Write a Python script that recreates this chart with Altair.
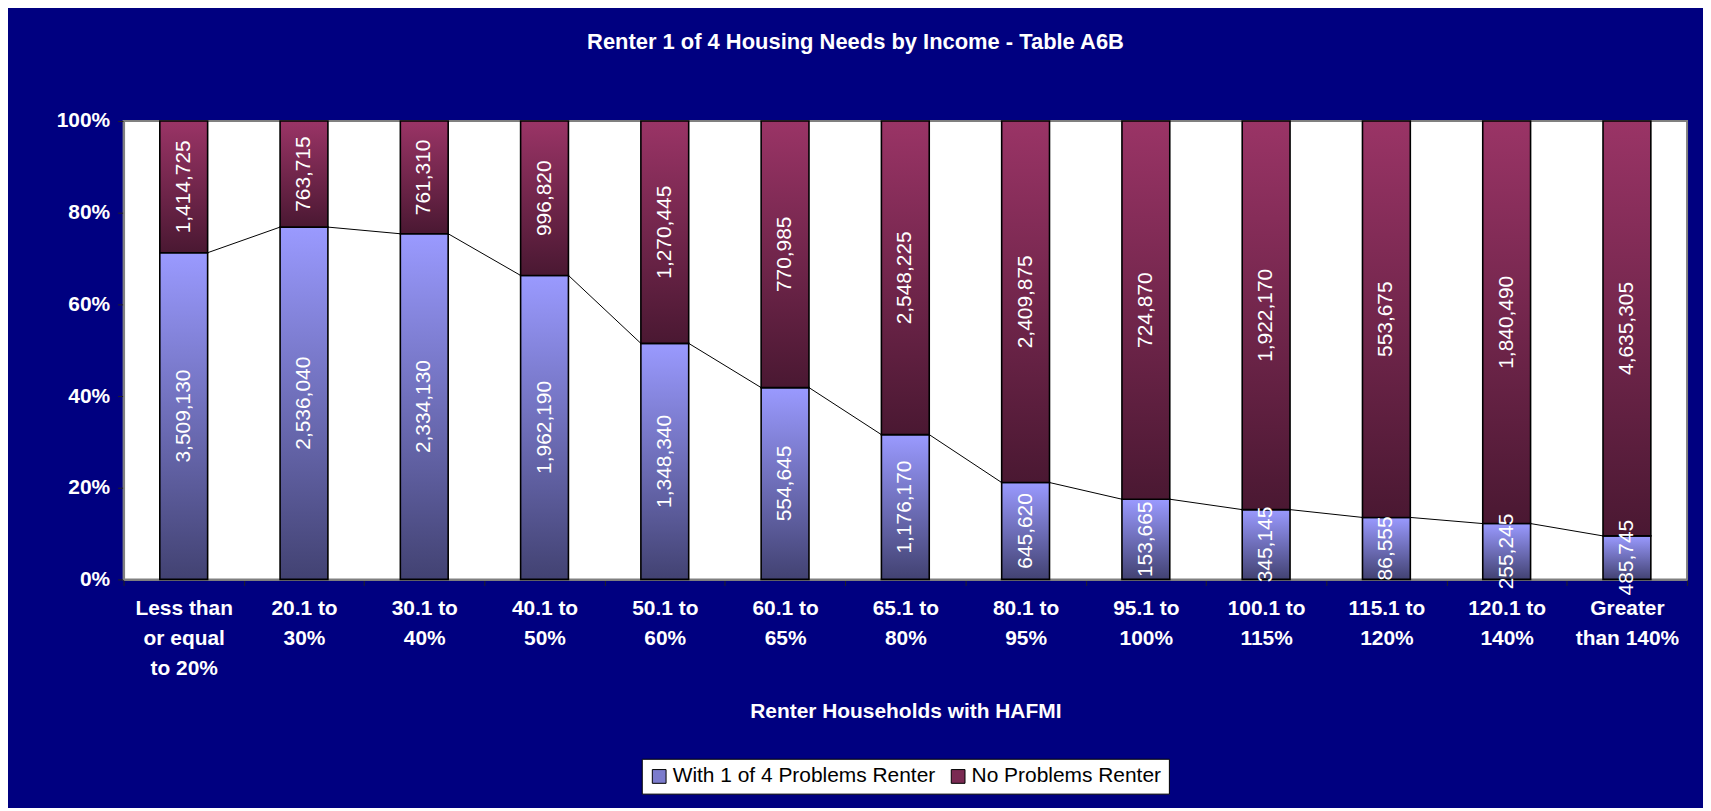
import altair as alt
import pandas as pd

# ---- data ----
categories = [
    "Less than\nor equal\nto 20%", "20.1 to\n30%", "30.1 to\n40%", "40.1 to\n50%",
    "50.1 to\n60%", "60.1 to\n65%", "65.1 to\n80%", "80.1 to\n95%", "95.1 to\n100%",
    "100.1 to\n115%", "115.1 to\n120%", "120.1 to\n140%", "Greater\nthan 140%",
]
with_problems = [3509130, 2536040, 2334130, 1962190, 1348340, 554645, 1176170,
                 645620, 153665, 345145, 86555, 255245, 485745]
no_problems = [1414725, 763715, 761310, 996820, 1270445, 770985, 2548225,
               2409875, 724870, 1922170, 553675, 1840490, 4635305]
series_names = ["With 1 of 4 Problems Renter", "No Problems Renter"]

FONT = "Liberation Sans"

df = pd.DataFrame({"cat": categories, "w": with_problems, "n": no_problems})
df["total"] = df["w"] + df["n"]
df["pw"] = df["w"] / df["total"]
df["one"] = 1.0
df["zero"] = 0.0
df["mid_w"] = df["pw"] / 2
df["mid_n"] = (1 + df["pw"]) / 2

line_df = pd.DataFrame({
    "cat": categories[:-1],
    "next_cat": categories[1:],
    "pw": list(df["pw"][:-1]),
    "next_pw": list(df["pw"][1:]),
})

grad_low = {"gradient": "linear", "x1": 0, "y1": 0, "x2": 0, "y2": 1,
            "stops": [{"offset": 0, "color": "#9a9aff"},
                      {"offset": 1, "color": "#424272"}]}
grad_high = {"gradient": "linear", "x1": 0, "y1": 0, "x2": 0, "y2": 1,
             "stops": [{"offset": 0, "color": "#9a3466"},
                       {"offset": 1, "color": "#4a1832"}]}

BAR_W = 48

x_enc = alt.X(
    "cat:N", sort=categories,
    scale=alt.Scale(paddingInner=0, paddingOuter=0),
    axis=alt.Axis(
        labelAngle=0, labelExpr="split(datum.label, '\\n')", labelLineHeight=30,
        labelColor="white", labelFont=FONT, labelFontSize=21, labelFontWeight="bold",
        labelPadding=12, tickBand="extent", tickColor="#222222", tickSize=6,
        domainColor="#808080", domainWidth=2,
        title="Renter Households with HAFMI", titleColor="white", titleFont=FONT,
        titleFontSize=21, titleFontWeight="bold", titlePadding=23,
    ),
)
y_scale = alt.Scale(domain=[0, 1])
y_axis = alt.Axis(
    format=".0%", values=[0, 0.2, 0.4, 0.6, 0.8, 1.0], grid=False, title=None,
    labelColor="white", labelFont=FONT, labelFontSize=21, labelFontWeight="bold",
    labelPadding=8, tickColor="#222222", tickSize=6,
    domainColor="#808080", domainWidth=2,
)

base = alt.Chart(df)

low_bars = base.mark_bar(width=BAR_W, fill=grad_low, stroke="black", strokeWidth=1.6).encode(
    x=x_enc,
    y=alt.Y("pw:Q", scale=y_scale, axis=y_axis),
    y2="zero:Q",
)
high_bars = base.mark_bar(width=BAR_W, fill=grad_high, stroke="black", strokeWidth=1.6).encode(
    x=alt.X("cat:N", sort=categories),
    y=alt.Y("one:Q"),
    y2="pw:Q",
)

txt_props = dict(angle=270, color="white", font=FONT, fontSize=21,
                 align="center", baseline="middle")
low_text = base.mark_text(**txt_props).encode(
    x=alt.X("cat:N", sort=categories),
    y=alt.Y("mid_w:Q"),
    text=alt.Text("w:Q", format=",d"),
)
high_text = base.mark_text(**txt_props).encode(
    x=alt.X("cat:N", sort=categories),
    y=alt.Y("mid_n:Q"),
    text=alt.Text("n:Q", format=",d"),
)

series_lines = alt.Chart(line_df).mark_rule(
    color="black", strokeWidth=1, xOffset=BAR_W / 2, x2Offset=-BAR_W / 2
).encode(
    x=alt.X("cat:N", sort=categories),
    x2="next_cat:N",
    y=alt.Y("pw:Q"),
    y2="next_pw:Q",
)

legend_layer = alt.Chart(pd.DataFrame({"series": series_names})).mark_square(opacity=0).encode(
    x=alt.value(0), y=alt.value(0),
    color=alt.Color(
        "series:N",
        scale=alt.Scale(domain=series_names, range=["#7b7bcc", "#7a2a52"]),
        legend=alt.Legend(
            orient="none", legendX=520, legendY=640, direction="horizontal", title=None,
            fillColor="white", strokeColor="black", padding=7,
            labelColor="black", labelFont=FONT, labelFontSize=21, labelOffset=3,
            labelLimit=0,
            symbolType="square", symbolSize=190, symbolStrokeColor="black",
            symbolStrokeWidth=1, symbolOpacity=1, columnPadding=12,
        ),
    ),
)

chart = alt.layer(
    low_bars, high_bars, series_lines, low_text, high_text, legend_layer
).properties(
    width=1569, height=460,
    padding={"left": 116, "top": 112, "right": 16, "bottom": 228},
    autosize=alt.AutoSizeParams(type="none"),
    title=alt.TitleParams(
        text="Renter 1 of 4 Housing Needs by Income - Table A6B", color="white",
        font=FONT, fontSize=22, fontWeight="bold", anchor="middle", dx=-50, offset=56,
    ),
).configure(
    background="#000080",
).configure_view(
    fill="white", stroke="#808080", strokeWidth=2,
)

chart.save("out.html", embed_options={"renderer": "svg", "actions": False})
